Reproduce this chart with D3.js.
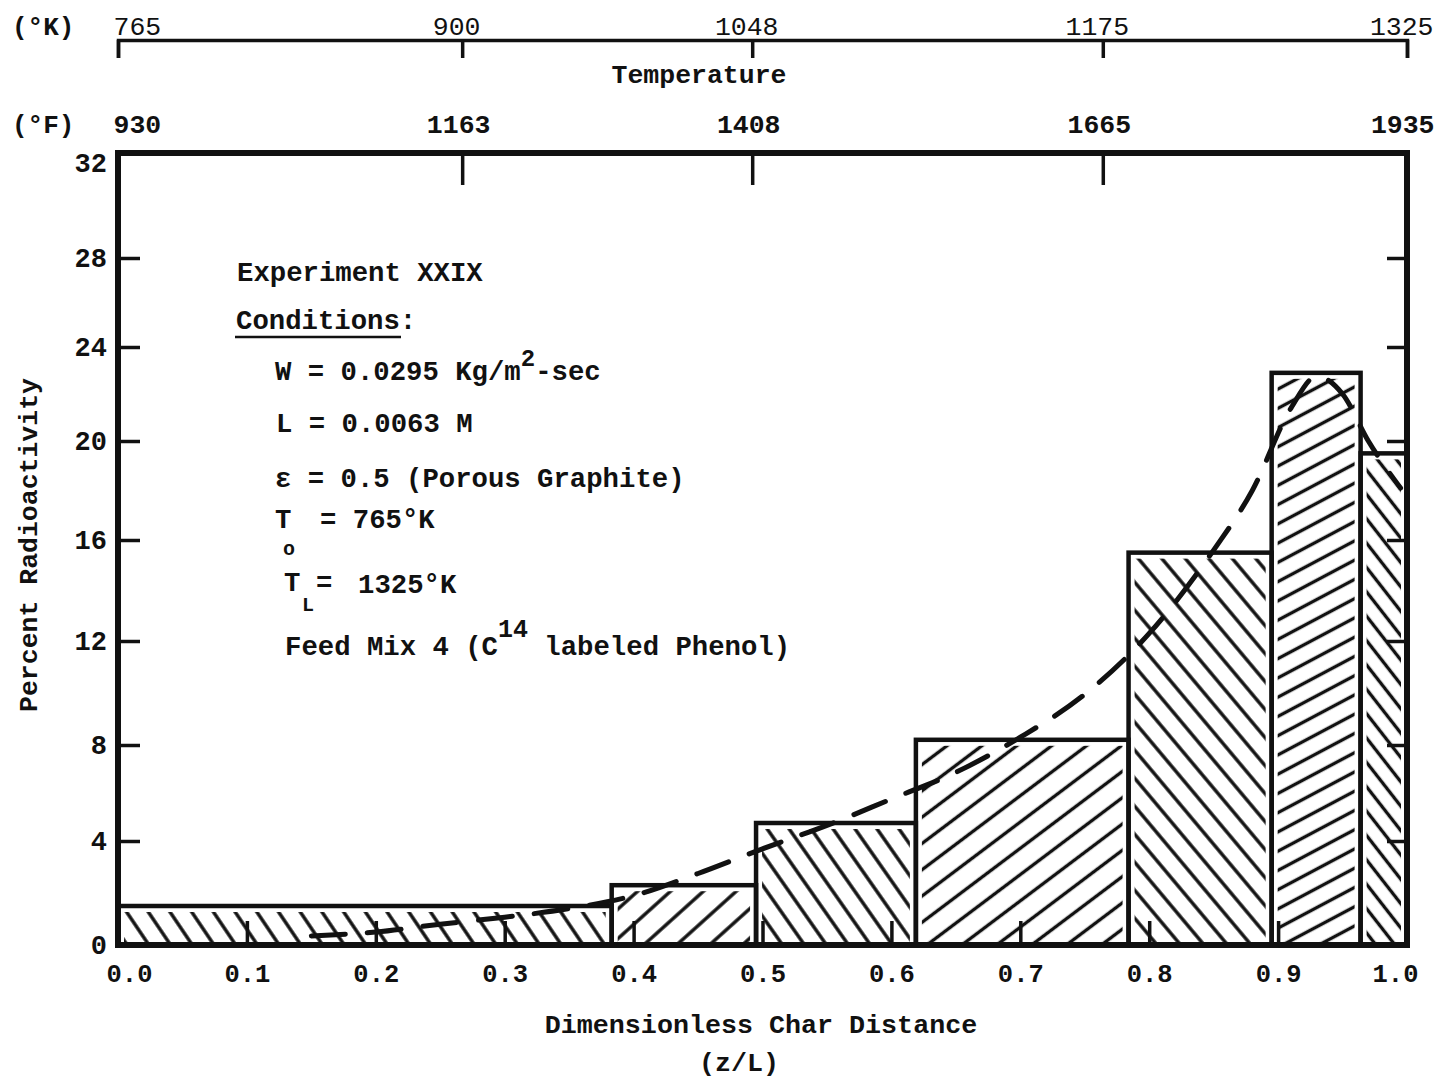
<!DOCTYPE html>
<html>
<head>
<meta charset="utf-8">
<script src="https://cdn.jsdelivr.net/npm/d3@7"></script>
<style>
  body { margin: 0; background: #fff; }
  svg { display: block; }
  text { font-family: "Liberation Mono", "Courier New", monospace; fill: #111; }
</style>
</head>
<body>
<div id="chart"></div>
<script>
// z/L bin edges and percent radioactivity in each bin (Experiment XXIX)
var zEdges = [0, 0.383, 0.495, 0.619, 0.784, 0.895, 0.964, 1.0];
var pctRadio = [1.5, 2.3, 4.75, 8.2, 15.5, 22.9, 19.5];

// dashed fitted curve
var fitZ   = [0.15, 0.20, 0.25, 0.30, 0.35, 0.40, 0.45, 0.50, 0.55, 0.60, 0.65, 0.70, 0.75, 0.80, 0.85, 0.88, 0.91, 0.93, 0.95, 0.97, 0.995];
var fitPct = [0.35, 0.5, 0.8, 1.07, 1.4, 1.9, 2.75, 3.7, 4.65, 5.75, 6.86, 8.3, 9.95, 12.3, 15.6, 18.0, 21.4, 22.75, 22.0, 20.0, 18.1];

var xTicks = [0, 0.1, 0.2, 0.3, 0.4, 0.5, 0.6, 0.7, 0.8, 0.9, 1.0];
var yTicks = [0, 4, 8, 12, 16, 20, 24, 28, 32];

// temperature scale along the char
var tempZ = [0, 0.267, 0.492, 0.764, 1.0];
var tempK = ['765', '900', '1048', '1175', '1325'];
var tempF = ['930', '1163', '1408', '1665', '1935'];

var W = 1436, H = 1080;
var frame = {left: 118, right: 1407, top: 153, bottom: 945};
var ink = '#111';

// hatch style per bar: direction, angle from horizontal, spacing
var hatch = [
  {dir: '\\', ang: 56, gap: 18},
  {dir: '/',  ang: 42, gap: 22},
  {dir: '\\', ang: 55, gap: 18},
  {dir: '/',  ang: 37, gap: 21},
  {dir: '\\', ang: 50, gap: 18},
  {dir: '/',  ang: 28, gap: 17},
  {dir: '\\', ang: 52, gap: 15}
];

var svg = d3.select('#chart').append('svg')
  .attr('width', W).attr('height', H);

var x = d3.scaleLinear().domain([0, 1]).range([frame.left, frame.right]);
// the printed value axis is not evenly spaced, so map each labelled tick
var y = d3.scaleLinear().domain(yTicks)
  .range([945, 841, 745, 641, 540, 441, 347, 258, 163]);

var defs = svg.append('defs');
hatch.forEach(function(h, i) {
  var rot = h.dir === '/' ? 90 - h.ang : -(90 - h.ang);
  var p = defs.append('pattern')
    .attr('id', 'hatch' + i)
    .attr('patternUnits', 'userSpaceOnUse')
    .attr('width', h.gap).attr('height', h.gap)
    .attr('patternTransform', 'rotate(' + rot + ')');
  p.append('line')
    .attr('x1', h.gap / 2).attr('x2', h.gap / 2)
    .attr('y1', -1).attr('y2', h.gap + 1)
    .attr('stroke', ink).attr('stroke-width', 3.4);
});

var bins = pctRadio.map(function(v, i) {
  return {x0: zEdges[i], x1: zEdges[i + 1], v: v, i: i};
});

// axes: ticks point inward, frame drawn separately
var axStyle = function(g, fs, fw) {
  g.select('.domain').remove();
  g.selectAll('.tick line').attr('stroke', ink).attr('stroke-width', 3.5);
  g.selectAll('.tick text').style('font-size', fs + 'px').style('font-weight', fw).attr('fill', ink);
};

svg.append('g')
  .attr('transform', 'translate(0,' + frame.bottom + ')')
  .call(d3.axisBottom(x).tickValues(xTicks).tickSize(-24).tickPadding(19).tickFormat(d3.format('.1f')))
  .call(axStyle, 25.5, 'bold')
  .call(function(g) {
    g.selectAll('.tick text').attr('dx', function(d) { return d === 0 ? 11 : d === 1 ? -12 : 0; });
  });

svg.append('g')
  .attr('transform', 'translate(' + frame.left + ',0)')
  .call(d3.axisLeft(y).tickValues(yTicks).tickSize(-22).tickPadding(11))
  .call(axStyle, 27, 'bold')
  .call(function(g) { g.selectAll('.tick line').filter(function(d) { return d === 0 || d === 32; }).remove(); });

svg.append('g')
  .attr('transform', 'translate(' + frame.right + ',0)')
  .call(d3.axisRight(y).tickValues(yTicks.slice(1, -1)).tickSize(-20).tickFormat(''))
  .call(axStyle, 25, 'bold');

// degrees F along the top of the frame
svg.append('g')
  .attr('transform', 'translate(0,' + frame.top + ')')
  .call(d3.axisTop(x).tickValues(tempZ).tickSize(-32).tickPadding(20)
    .tickFormat(function(d, i) { return tempF[i]; }))
  .call(axStyle, 26.5, 'bold')
  .call(function(g) {
    g.selectAll('.tick line').filter(function(d, i) { return i === 0 || i === tempZ.length - 1; }).remove();
    g.selectAll('.tick text')
      .attr('text-anchor', function(d, i) { return i === 0 ? 'start' : i === tempZ.length - 1 ? 'end' : 'middle'; })
      .attr('dx', function(d, i) { return i === 0 ? -5 : i === tempZ.length - 1 ? 27 : -4; });
  });

// degrees K scale above
var kAxis = svg.append('g')
  .attr('transform', 'translate(0,40)')
  .call(d3.axisTop(x).tickValues(tempZ).tickSize(-18).tickPadding(5)
    .tickFormat(function(d, i) { return tempK[i]; }));
kAxis.select('.domain').attr('stroke', ink).attr('stroke-width', 3.5);
kAxis.selectAll('.tick line').attr('stroke', ink).attr('stroke-width', 3.5);
kAxis.selectAll('.tick text')
  .style('font-size', '26.5px').style('font-weight', 'normal').attr('fill', ink)
  .attr('text-anchor', function(d, i) { return i === 0 ? 'start' : i === tempZ.length - 1 ? 'end' : 'middle'; })
  .attr('dx', function(d, i) { return i === 0 ? -5 : i === tempZ.length - 1 ? 26 : -6; });

// bars
var bar = svg.append('g').selectAll('g.bar')
  .data(bins).enter().append('g').attr('class', 'bar');

bar.append('rect')
  .attr('x', function(d) { return x(d.x0) + 6; })
  .attr('y', function(d) { return y(d.v) + 6; })
  .attr('width', function(d) { return x(d.x1) - x(d.x0) - 12; })
  .attr('height', function(d) { return y(0) - y(d.v) - 8; })
  .attr('fill', function(d) { return 'url(#hatch' + d.i + ')'; });

bar.append('rect')
  .attr('x', function(d) { return x(d.x0); })
  .attr('y', function(d) { return y(d.v); })
  .attr('width', function(d) { return x(d.x1) - x(d.x0); })
  .attr('height', function(d) { return y(0) - y(d.v); })
  .attr('fill', 'none')
  .attr('stroke', ink).attr('stroke-width', 4.5);

// frame
svg.append('rect')
  .attr('x', frame.left).attr('y', frame.top)
  .attr('width', frame.right - frame.left).attr('height', frame.bottom - frame.top)
  .attr('fill', 'none').attr('stroke', ink).attr('stroke-width', 6);

// dashed curve
var line = d3.line()
  .x(function(d, i) { return x(fitZ[i]); })
  .y(function(d) { return y(d); })
  .curve(d3.curveMonotoneX);

svg.append('path')
  .datum(fitPct)
  .attr('d', line)
  .attr('fill', 'none')
  .attr('stroke', ink).attr('stroke-width', 5)
  .attr('stroke-dasharray', '34 22')
  .attr('stroke-linecap', 'round');

// titles
svg.append('text').attr('x', 12).attr('y', 35).style('font-size', '26px').style('font-weight', 'bold').text('(°K)');
svg.append('text').attr('x', 12).attr('y', 133).style('font-size', '26px').style('font-weight', 'bold').text('(°F)');
svg.append('text').attr('x', 699).attr('y', 83).attr('text-anchor', 'middle')
  .style('font-size', '26.5px').style('font-weight', 'bold').text('Temperature');

svg.append('text')
  .attr('transform', 'translate(37,545) rotate(-90)')
  .attr('text-anchor', 'middle')
  .style('font-size', '26.5px').style('font-weight', 'bold')
  .text('Percent Radioactivity');

svg.append('text').attr('x', 761).attr('y', 1033).attr('text-anchor', 'middle')
  .style('font-size', '26.7px').style('font-weight', 'bold').text('Dimensionless Char Distance');
svg.append('text').attr('x', 739).attr('y', 1071).attr('text-anchor', 'middle')
  .style('font-size', '26.7px').style('font-weight', 'bold').text('(z/L)');

// conditions block
var note = svg.append('g').style('font-size', '27.3px').style('font-weight', 'bold');
note.append('text').attr('x', 237).attr('y', 281).text('Experiment XXIX');
note.append('text').attr('x', 236).attr('y', 329).text('Conditions:');
note.append('line').attr('x1', 235).attr('x2', 401).attr('y1', 337).attr('y2', 337)
  .attr('stroke', ink).attr('stroke-width', 2.5);

var w = note.append('text').attr('x', 275).attr('y', 380);
w.append('tspan').text('W = 0.0295 Kg/m');
w.append('tspan').attr('dy', -14).style('font-size', '24px').text('2');
w.append('tspan').attr('dy', 14).text('-sec');

note.append('text').attr('x', 276).attr('y', 432).text('L = 0.0063 M');
note.append('text').attr('x', 275).attr('y', 487).text('\u03b5 = 0.5 (Porous Graphite)');

note.append('text').attr('x', 275).attr('y', 528).text('T');
note.append('text').attr('x', 283).attr('y', 555).style('font-size', '20px').text('o');
note.append('text').attr('x', 320).attr('y', 528).text('= 765°K');

note.append('text').attr('x', 284).attr('y', 591).text('T');
note.append('text').attr('x', 302).attr('y', 611).style('font-size', '20px').text('L');
note.append('text').attr('x', 316).attr('y', 591).text('=');
note.append('text').attr('x', 358).attr('y', 593).text('1325°K');

var f = note.append('text').attr('x', 285).attr('y', 655);
f.append('tspan').text('Feed Mix 4 (C');
f.append('tspan').attr('dy', -18).style('font-size', '25px').text('14');
f.append('tspan').attr('dy', 18).text(' labeled Phenol)');
</script>
</body>
</html>
